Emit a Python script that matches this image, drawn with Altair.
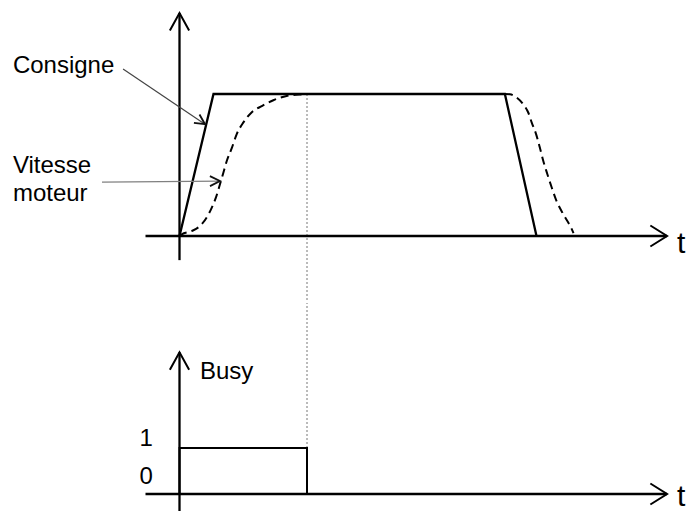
import math
import altair as alt
import pandas as pd

# ---------------- data (time in ramp units, speed as a fraction of full speed) ----------------
consigne_t = [0.0, 1.0, 9.57, 10.5]
consigne_v = [0.0, 1.0, 1.0, 0.0]

vit_rise_t = [0.0, 0.065, 0.36, 0.60, 0.80, 0.95, 1.07, 1.19, 1.29, 1.39, 1.54, 1.68, 1.88, 2.12, 2.42, 2.76, 3.15, 3.64, 3.75]
vit_rise_v = [0.0, 0.012, 0.035, 0.07, 0.13, 0.20, 0.27, 0.364, 0.446, 0.528, 0.62, 0.716, 0.80, 0.87, 0.915, 0.956, 0.986, 0.998, 1.0]
vit_fall_t = [9.57, 9.72, 9.92, 10.11, 10.26, 10.36, 10.49, 10.60, 10.70, 10.82, 10.95, 11.09, 11.29, 11.54, 11.59]
vit_fall_v = [1.0, 0.998, 0.974, 0.927, 0.868, 0.798, 0.716, 0.621, 0.528, 0.435, 0.34, 0.246, 0.153, 0.047, 0.02]

busy_t = [0.0, 0.0, 3.75, 3.75]
busy_v = [0.0, 1.0, 1.0, 0.0]
busy_end = 3.75

x_axis_t = [-1.0, 14.34]
top_axis_v = [-0.17, 1.57]
bot_axis_v = [-0.43, 3.08]

# annotation arrows (start t, start v, end t, end v)
cons_arrow = [-1.66, 1.176, 0.75, 0.787]
vit_arrow = [-2.28, 0.38, 1.19, 0.387]

top_labels = ["Consigne", "Vitesse", "moteur"]
top_labels_t = [-4.9, -4.9, -4.9]
top_labels_v = [1.148, 0.444, 0.246]
bot_labels = ["Busy"]
bot_labels_t = [0.60]
bot_labels_v = [2.5]
level_labels = ["1", "0"]
level_labels_t = [-1.18, -1.18]
level_labels_v = [1.04, 0.217]
t_label_t = 14.63
t_label_top_v = -0.12
t_label_bot_v = -0.27

# ---------------- layout ----------------
W = 683
H_TOP = 292
H_BOT = 203
PX_T = 34.0      # px per time unit
X0 = 171.5       # px from panel left to t = 0
PX_V = 142.0     # px per speed unit (top)
V0 = 65.0        # px from top panel bottom to v = 0
PX_B = 46.0      # px per busy unit
B0 = 12.0        # px from bottom panel bottom to busy = 0

FONT = "Liberation Sans, Arial, sans-serif"
FS = 24
FS_T = 30
BLACK = "#000000"

x_scale = alt.Scale(domain=[-X0 / PX_T, (W - X0) / PX_T], nice=False, zero=False)
top_scale = alt.Scale(domain=[-V0 / PX_V, (H_TOP - V0) / PX_V], nice=False, zero=False)
bot_scale = alt.Scale(domain=[-B0 / PX_B, (H_BOT - B0) / PX_B], nice=False, zero=False)

X = lambda f="t": alt.X(f"{f}:Q", scale=x_scale, axis=None)
YT = lambda f="v": alt.Y(f"{f}:Q", scale=top_scale, axis=None)
YB = lambda f="v": alt.Y(f"{f}:Q", scale=bot_scale, axis=None)

ARROW_RIGHT = "M-1,-0.63L0,0L-1,0.63"
ARROW_UP = "M-0.55,1L0,0L0.55,1"
ARROW_SMALL = "M-1,-0.5L0,0L-1,0.5"


def seg_df(parts):
    rows = []
    for name, ts, vs in parts:
        for i, (t, v) in enumerate(zip(ts, vs)):
            rows.append({"seg": name, "i": i, "t": t, "v": v})
    return pd.DataFrame(rows)


def axes_layers(Y, yaxis):
    df = seg_df([("x", x_axis_t, [0, 0]), ("y", [0, 0], yaxis)])
    lines = alt.Chart(df).mark_line(color=BLACK, strokeWidth=2.3).encode(
        x=X(), y=Y(), detail="seg:N", order="i:Q")
    head_x = alt.Chart(pd.DataFrame({"t": [x_axis_t[1]], "v": [0]})).mark_point(
        shape=ARROW_RIGHT, filled=False, size=1115, strokeWidth=2, color=BLACK, opacity=1
    ).encode(x=X(), y=Y())
    head_y = alt.Chart(pd.DataFrame({"t": [0], "v": [yaxis[1]]})).mark_point(
        shape=ARROW_UP, filled=False, size=1225, strokeWidth=2, color=BLACK, opacity=1
    ).encode(x=X(), y=Y())
    return [lines, head_x, head_y]


# ---------------- top panel ----------------
dotted_top = alt.Chart(pd.DataFrame({"t": [busy_end], "v": [1.0], "v2": [top_scale.domain[0]]})).mark_rule(
    color="#777777", strokeWidth=1, strokeDash=[2, 2]).encode(x=X(), y=YT(), y2="v2:Q")

consigne = alt.Chart(seg_df([("c", consigne_t, consigne_v)])).mark_line(
    color=BLACK, strokeWidth=2.3).encode(x=X(), y=YT(), order="i:Q")

vitesse = alt.Chart(seg_df([("r", vit_rise_t, vit_rise_v), ("f", vit_fall_t, vit_fall_v)])).mark_line(
    color=BLACK, strokeWidth=2, strokeDash=[8, 5], interpolate="monotone").encode(
    x=X(), y=YT(), detail="seg:N", order="i:Q")

ann = pd.DataFrame({
    "name": ["cons", "vit"],
    "t": [cons_arrow[0], vit_arrow[0]], "v": [cons_arrow[1], vit_arrow[1]],
    "t2": [cons_arrow[2], vit_arrow[2]], "v2": [cons_arrow[3], vit_arrow[3]],
    "col": ["#444444", "#808080"],
})
ann["ang"] = [math.degrees(math.atan2(-(r.v2 - r.v) * PX_V, (r.t2 - r.t) * PX_T)) for r in ann.itertuples()]

ann_lines = alt.Chart(ann).mark_rule(strokeWidth=1.2).encode(
    x=X(), y=YT(), x2="t2:Q", y2="v2:Q", color=alt.Color("col:N", scale=None))
ann_heads = alt.Chart(ann).mark_point(
    shape=ARROW_SMALL, filled=False, size=400, strokeWidth=1.8, color="#111111", opacity=1
).encode(x=X("t2"), y=YT("v2"), angle=alt.Angle("ang:Q", scale=None))

top_text = alt.Chart(pd.DataFrame({"label": top_labels, "t": top_labels_t, "v": top_labels_v})).mark_text(
    align="left", baseline="alphabetic", font=FONT, fontSize=FS, color=BLACK).encode(
    x=X(), y=YT(), text="label:N")
top_t = alt.Chart(pd.DataFrame({"label": ["t"], "t": [t_label_t], "v": [t_label_top_v]})).mark_text(
    align="left", baseline="alphabetic", font=FONT, fontSize=FS_T, color=BLACK).encode(
    x=X(), y=YT(), text="label:N")

top = alt.layer(
    dotted_top, *axes_layers(YT, top_axis_v), consigne, vitesse, ann_lines, ann_heads, top_text, top_t
).properties(width=W, height=H_TOP)

# ---------------- bottom panel ----------------
dotted_bot = alt.Chart(pd.DataFrame({"t": [busy_end], "v": [1.0], "v2": [bot_scale.domain[1]]})).mark_rule(
    color="#777777", strokeWidth=1, strokeDash=[2, 2]).encode(x=X(), y=YB(), y2="v2:Q")

busy = alt.Chart(seg_df([("b", busy_t, busy_v)])).mark_line(
    color=BLACK, strokeWidth=2).encode(x=X(), y=YB(), order="i:Q")

bot_text = alt.Chart(pd.DataFrame({"label": bot_labels + level_labels,
                                   "t": bot_labels_t + level_labels_t,
                                   "v": bot_labels_v + level_labels_v})).mark_text(
    align="left", baseline="alphabetic", font=FONT, fontSize=FS, color=BLACK).encode(
    x=X(), y=YB(), text="label:N")
bot_t = alt.Chart(pd.DataFrame({"label": ["t"], "t": [t_label_t], "v": [t_label_bot_v]})).mark_text(
    align="left", baseline="alphabetic", font=FONT, fontSize=FS_T, color=BLACK).encode(
    x=X(), y=YB(), text="label:N")

bottom = alt.layer(
    dotted_bot, *axes_layers(YB, bot_axis_v), busy, bot_text, bot_t
).properties(width=W, height=H_BOT)

chart = alt.vconcat(top, bottom, spacing=0).properties(
    padding=0, background="white"
).configure_view(stroke=None)

chart.save("out.html", embed_options={"renderer": "svg", "actions": False})
